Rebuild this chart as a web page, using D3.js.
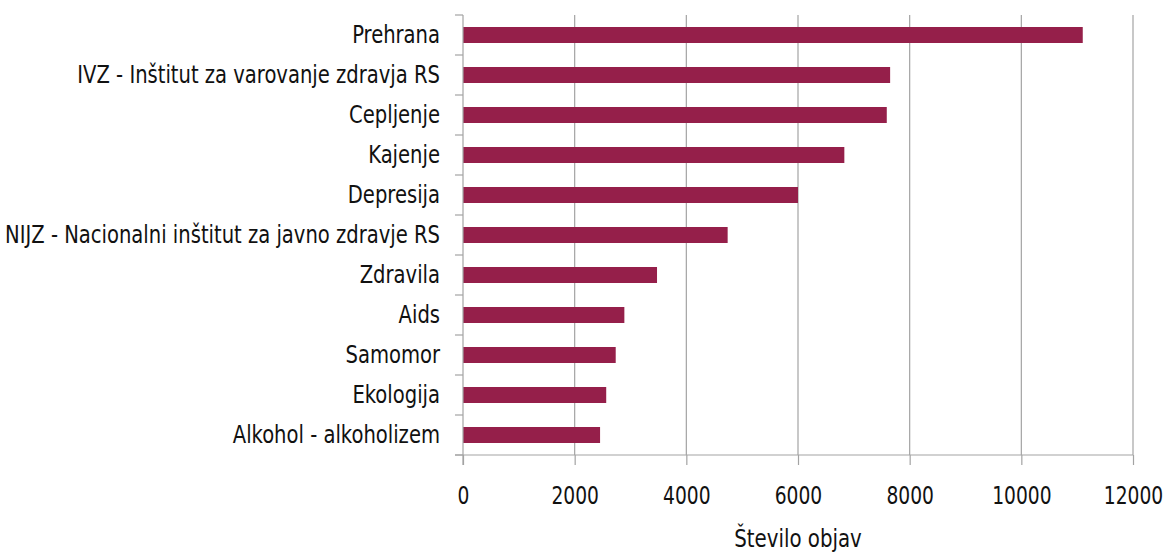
<!DOCTYPE html>
<html>
<head>
<meta charset="utf-8">
<script src="https://cdn.jsdelivr.net/npm/d3@7"></script>
<style>
  body { margin: 0; background: #fff; }
  text { font-family: "DejaVu Sans Condensed", "DejaVu Sans", sans-serif; fill: #111; }
</style>
</head>
<body>
<div id="chart"></div>
<script>
const categories = ['Prehrana', 'IVZ - Inštitut za varovanje zdravja RS', 'Cepljenje', 'Kajenje', 'Depresija',
  'NIJZ - Nacionalni inštitut za javno zdravje RS', 'Zdravila', 'Aids', 'Samomor', 'Ekologija', 'Alkohol - alkoholizem'];
const values = [11100, 7650, 7590, 6830, 6000, 4740, 3475, 2890, 2735, 2565, 2455];
const xTicks = [0, 2000, 4000, 6000, 8000, 10000, 12000];
const xTitle = 'Število objav';

const width = 1166, height = 554;
const plotLeft = 463, plotRight = 1133, plotTop = 15, plotBottom = 455;
const gridColor = '#a3a3a3';
const fontSize = 25;

const svg = d3.select('#chart').append('svg')
  .attr('width', width)
  .attr('height', height);

const x = d3.scaleLinear().domain([0, 12000]).range([plotLeft, plotRight]);
const y = d3.scaleBand().domain(categories).range([plotTop, plotBottom])
  .paddingInner(0.6).paddingOuter(0.3);

// the original font is narrow and tall, so squeeze the text sideways
function narrow(sel, k) {
  sel.attr('font-size', fontSize).attr('fill', '#111')
    .each(function() {
      const w = this.getComputedTextLength();
      d3.select(this).attr('textLength', w * k).attr('lengthAdjust', 'spacingAndGlyphs');
    });
}

// vertical gridlines
svg.append('g').selectAll('line')
  .data(xTicks.slice(1))
  .enter().append('line')
  .attr('x1', d => x(d)).attr('x2', d => x(d))
  .attr('y1', plotTop).attr('y2', plotBottom)
  .attr('stroke', gridColor).attr('stroke-width', 1.2);

// bars
svg.append('g').selectAll('rect')
  .data(values)
  .enter().append('rect')
  .attr('x', x(0))
  .attr('y', (d, i) => y(categories[i]))
  .attr('width', d => x(d) - x(0))
  .attr('height', y.bandwidth())
  .attr('fill', '#951f4a');

// x axis
const xAxis = svg.append('g')
  .attr('transform', `translate(0, ${plotBottom})`)
  .call(d3.axisBottom(x).tickValues(xTicks).tickFormat(d3.format('d'))
    .tickSize(10).tickPadding(21).tickSizeOuter(0));
xAxis.select('.domain').remove();
xAxis.selectAll('.tick line').attr('stroke', gridColor).attr('stroke-width', 1.2);
xAxis.selectAll('text').call(narrow, 0.83);
xAxis.append('line')
  .attr('x1', plotLeft - 8).attr('x2', plotRight)
  .attr('stroke', gridColor).attr('stroke-width', 1.2);

// y axis labels
const yAxis = svg.append('g')
  .attr('transform', `translate(${plotLeft}, 0)`)
  .call(d3.axisLeft(y).tickSize(0).tickPadding(23));
yAxis.select('.domain').remove();
yAxis.selectAll('text').call(narrow, 0.87);

// y axis line and boundary ticks
const step = y.step();
const bounds = categories.map(c => y(c) - step * y.paddingOuter()).concat([plotBottom]);
yAxis.append('line')
  .attr('y1', plotTop).attr('y2', plotBottom + 10)
  .attr('stroke', gridColor).attr('stroke-width', 1.2);
yAxis.selectAll('.bound')
  .data(bounds)
  .enter().append('line')
  .attr('class', 'bound')
  .attr('x1', -8).attr('x2', 0)
  .attr('y1', d => d).attr('y2', d => d)
  .attr('stroke', gridColor).attr('stroke-width', 1.2);

// axis title
svg.append('text')
  .attr('x', (plotLeft + plotRight) / 2)
  .attr('y', 547)
  .attr('text-anchor', 'middle')
  .text(xTitle)
  .call(narrow, 0.88);
</script>
</body>
</html>
